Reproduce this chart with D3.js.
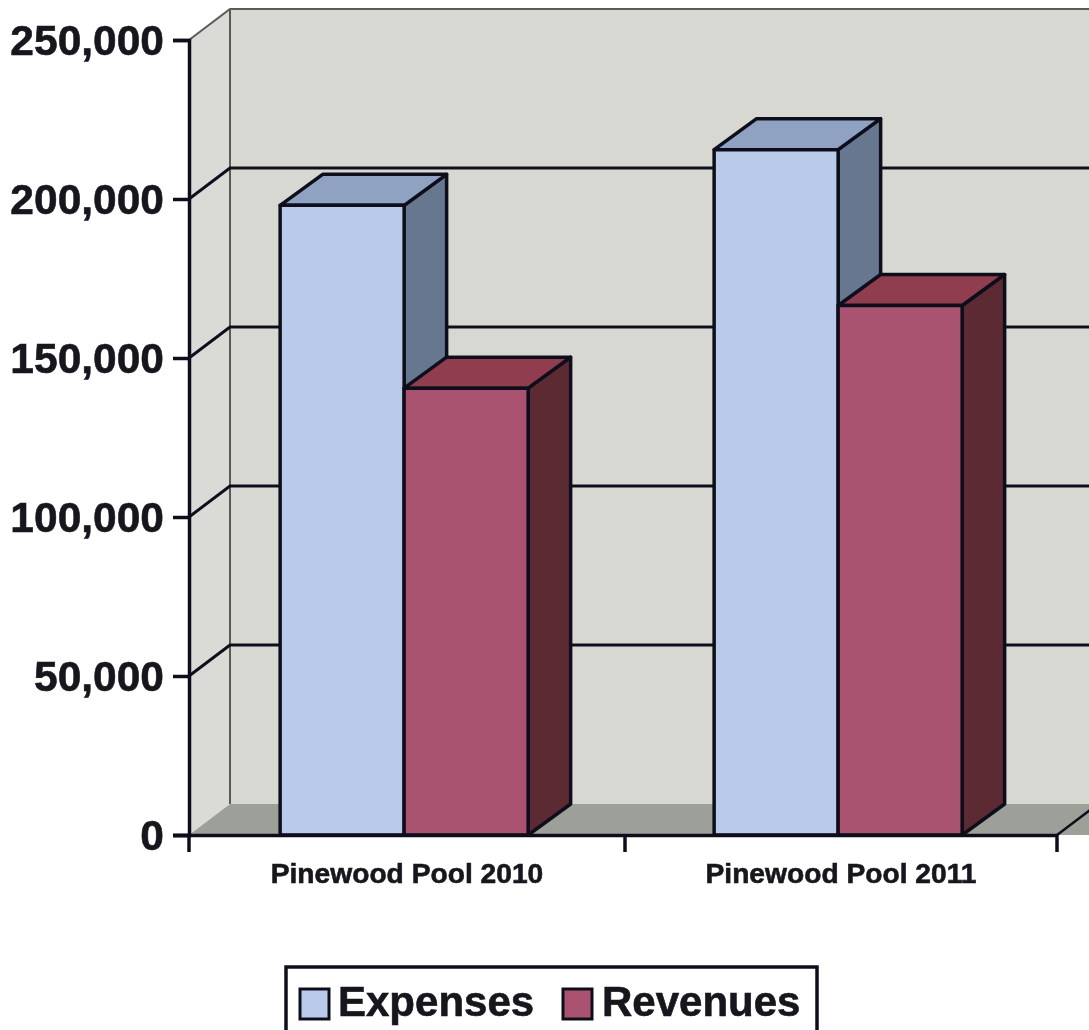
<!DOCTYPE html>
<html>
<head>
<meta charset="utf-8">
<script src="https://cdn.jsdelivr.net/npm/d3@7"></script>
<style>
html, body { margin: 0; padding: 0; background: #fff; overflow: hidden; }
text { font-family: "Liberation Sans", Arial, sans-serif; font-weight: bold; fill: #14141c; stroke: #14141c; stroke-width: 0.6px; }
</style>
</head>
<body>
<svg width="1089" height="1030"></svg>
<script>
const categories = ["Pinewood Pool 2010", "Pinewood Pool 2011"];
const seriesNames = ["Expenses", "Revenues"];
const expenses = [198000, 215500];
const revenues = [140500, 166500];
const tickValues = [0, 50000, 100000, 150000, 200000, 250000];

const frontColors = ["#bacaea", "#aa5370"];
const topColors = ["#8fa2c2", "#8f3c50"];
const sideColors = ["#677790", "#5b2a33"];
const ink = "#11111c";

const root = d3.select("svg");
// the reference is a soft scan, so blur everything a touch
root.append("defs").append("filter").attr("id", "soft")
    .append("feGaussianBlur").attr("stdDeviation", 0.55);
const svg = root.append("g").attr("filter", "url(#soft)");
svg.append("rect").attr("width", 1089).attr("height", 1030).attr("fill", "#fff");

const width = 1089;
const left = 189, top0 = 40, bottom = 835, right = 1057;
const wallX = 41, barX = 42.5, depthY = -31; // 3d offsets

const y = d3.scaleLinear().domain([0, 250000]).range([bottom, top0]);
const x0 = d3.scaleBand().domain(categories).range([left, right]);
const x1 = d3.scaleBand().domain(seriesNames).range([0, x0.bandwidth()]).paddingOuter(0.75).align(0.49);

function poly(points, fill, stroke, sw) {
    return svg.append("polygon")
        .attr("points", points.map(p => p.join(",")).join(" "))
        .attr("fill", fill)
        .attr("stroke", stroke || "none")
        .attr("stroke-width", sw || 0)
        .attr("stroke-linejoin", "round");
}

// Walls
poly([[left + wallX, top0 + depthY], [width + 5, top0 + depthY], [width + 5, bottom + depthY], [left + wallX, bottom + depthY]], "#d8d8d2");
poly([[left, top0], [left + wallX, top0 + depthY], [left + wallX, bottom + depthY], [left, bottom]], "#dadad6");

// Floor
poly([[left, bottom], [left + wallX, bottom + depthY], [width + 5, bottom + depthY], [right + wallX, bottom], [right, bottom]], "#9d9f99");
svg.append("path")
    .attr("d", `M${right},${bottom}L${right + wallX},${bottom + depthY}`)
    .attr("stroke", ink).attr("stroke-width", 2.5).attr("fill", "none");

// Wall edges
svg.append("path")
    .attr("d", `M${left},${top0}L${left + wallX},${top0 + depthY}H${width}M${left + wallX},${top0 + depthY}V${bottom + depthY}`)
    .attr("stroke", "#5a5a58").attr("stroke-width", 2).attr("fill", "none");

// Grid lines
tickValues.filter(v => v > 0 && v < 250000).forEach(v => {
    svg.append("path")
        .attr("d", `M${left},${y(v)}L${left + wallX},${y(v) + depthY}H${width}`)
        .attr("stroke", ink).attr("stroke-width", 3).attr("fill", "none");
});

// Bars
categories.forEach((c, i) => {
    [expenses[i], revenues[i]].forEach((v, s) => {
        const xa = x0(c) + x1(seriesNames[s]);
        const xb = xa + x1.bandwidth();
        const yt = y(v);
        poly([[xb, yt], [xb + barX, yt + depthY], [xb + barX, bottom + depthY], [xb, bottom]], sideColors[s], ink, 3.5);
        poly([[xa, yt], [xa + barX, yt + depthY], [xb + barX, yt + depthY], [xb, yt]], topColors[s], ink, 3.5);
        poly([[xa, yt], [xb, yt], [xb, bottom], [xa, bottom]], frontColors[s], ink, 3.5);
    });
});

// Axes
const axisLeft = svg.append("g")
    .attr("transform", `translate(${left},0)`)
    .call(d3.axisLeft(y).tickValues(tickValues).tickFormat(d3.format(",")).tickSize(16).tickPadding(9));
axisLeft.selectAll("text").style("font-size", "42.5px").attr("dy", "0.35em");

const axisBottom = svg.append("g")
    .attr("transform", `translate(0,${bottom})`)
    .call(d3.axisBottom(x0).tickValues([]).tickSizeOuter(0));
axisBottom.select(".domain").attr("d", `M${left - 16},0.5H${right}`);

[left, left + x0.step() + 2, right].forEach(t => {
    axisBottom.append("line")
        .attr("x1", t).attr("x2", t).attr("y1", 0).attr("y2", 17);
});

svg.selectAll(".domain, .tick line").attr("stroke", ink).attr("stroke-width", 3.5);
axisBottom.selectAll("line").attr("stroke", ink).attr("stroke-width", 3.5);

categories.forEach(c => {
    svg.append("text")
        .attr("x", x0(c) + x0.bandwidth() / 2 + 1)
        .attr("y", 883)
        .attr("text-anchor", "middle")
        .style("font-size", "28.2px")
        .text(c);
});

// Legend
svg.append("rect")
    .attr("x", 286).attr("y", 967).attr("width", 531).attr("height", 80)
    .attr("fill", "#fff").attr("stroke", ink).attr("stroke-width", 3.5);

const legendX = [300, 563];
const legendTextX = [338, 602];
seriesNames.forEach((name, i) => {
    svg.append("rect")
        .attr("x", legendX[i]).attr("y", 989).attr("width", 29).attr("height", 30)
        .attr("fill", frontColors[i]).attr("stroke", ink).attr("stroke-width", 3);
    svg.append("text")
        .attr("x", legendTextX[i])
        .attr("y", 1016)
        .style("font-size", "42px")
        .text(name);
});
</script>
</body>
</html>
